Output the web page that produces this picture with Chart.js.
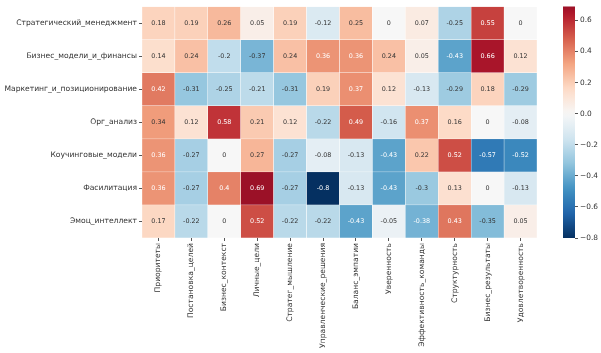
<!DOCTYPE html>
<html>
<head>
<meta charset="utf-8">
<script src="https://cdn.jsdelivr.net/npm/chart.js@4/dist/chart.umd.min.js"></script>
<style>
html,body{margin:0;padding:0;background:#fff;}
#wrap{position:relative;width:601px;height:353px;overflow:hidden;}
#main{position:absolute;left:0;top:0;}
#cbar{position:absolute;left:555px;top:0;}
</style>
</head>
<body>
<div id="wrap">
<canvas id="main" width="601" height="353"></canvas>
<canvas id="cbar" width="46" height="353"></canvas>
</div>
<script>
const rowLabels = ["Стратегический_менеджмент","Бизнес_модели_и_финансы","Маркетинг_и_позиционирование","Орг_анализ","Коучинговые_модели","Фасилитация","Эмоц_интеллект"];
const colLabels = ["Приоритеты","Постановка_целей","Бизнес_контекст","Личные_цели","Стратег_мышление","Управленческие_решения","Баланс_эмпатии","Уверенность","Эффективность_команды","Структурность","Бизнес_результаты","Удовлетворенность"];
const rowStrateg = [0.18, 0.19, 0.26, 0.05, 0.19, -0.12, 0.25, 0, 0.07, -0.25, 0.55, 0];
const rowBiz     = [0.14, 0.24, -0.2, -0.37, 0.24, 0.36, 0.36, 0.24, 0.05, -0.43, 0.66, 0.12];
const rowMarket  = [0.42, -0.31, -0.25, -0.21, -0.31, 0.19, 0.37, 0.12, -0.13, -0.29, 0.18, -0.29];
const rowOrg     = [0.34, 0.12, 0.58, 0.21, 0.12, -0.22, 0.49, -0.16, 0.37, 0.16, 0, -0.08];
const rowCoach   = [0.36, -0.27, 0, 0.27, -0.27, -0.08, -0.13, -0.43, 0.22, 0.52, -0.57, -0.52];
const rowFacil   = [0.36, -0.27, 0.4, 0.69, -0.27, -0.8, -0.13, -0.43, -0.3, 0.13, 0, -0.13];
const rowEmo     = [0.17, -0.22, 0, 0.52, -0.22, -0.22, -0.43, -0.05, -0.38, 0.43, -0.35, 0.05];
const matrix = [rowStrateg, rowBiz, rowMarket, rowOrg, rowCoach, rowFacil, rowEmo];
const vMin = -0.8, vMax = 0.69, vCenter = 0;
const cbarTicks = [-0.8, -0.6, -0.4, -0.2, 0.0, 0.2, 0.4, 0.6];

// RdBu_r colormap
const RDBU_R = [[5,48,97],[33,102,172],[67,147,195],[146,197,222],[209,229,240],[247,247,247],[253,219,199],[244,165,130],[214,96,77],[178,24,43],[103,0,31]];
function cmapRGB(t){
  t = Math.max(0, Math.min(1, t));
  const p = t*10, i = Math.min(9, Math.floor(p)), f = p - i;
  const a = RDBU_R[i], b = RDBU_R[i+1];
  return [0,1,2].map(k => a[k] + (b[k]-a[k])*f);
}
const vRange = Math.max(vMax - vCenter, vCenter - vMin);
function norm(v){ return (v - (vCenter - vRange)) / (2*vRange); }
function colorOf(v){ const c = cmapRGB(norm(v)); return `rgb(${c.map(Math.round).join(',')})`; }
function lum(v){
  const c = cmapRGB(norm(v)).map(x => { x/=255; return x <= 0.03928 ? x/12.92 : Math.pow((x+0.055)/1.055, 2.4); });
  return 0.2126*c[0] + 0.7152*c[1] + 0.0722*c[2];
}
const FONT = "'DejaVu Sans', sans-serif";
const TEXT = '#262626';

const annotPlugin = {
  id: 'annot',
  afterDatasetsDraw(chart){
    const ctx = chart.ctx;
    ctx.save();
    ctx.font = `6.4px ${FONT}`;
    ctx.textAlign = 'center';
    ctx.textBaseline = 'middle';
    chart.data.datasets.forEach((ds, r) => {
      const meta = chart.getDatasetMeta(r);
      meta.data.forEach((el, c) => {
        const v = matrix[r][c];
        ctx.fillStyle = lum(v) > 0.408 ? '#333333' : '#ffffff';
        ctx.fillText(String(v), el.x, (el.y + el.base)/2);
      });
    });
    ctx.restore();
  }
};

new Chart(document.getElementById('main'), {
  type: 'bar',
  data: {
    labels: colLabels,
    datasets: matrix.map((vals, r) => ({
      label: rowLabels[r],
      data: vals.map(() => [r, r+1]),
      backgroundColor: vals.map(colorOf),
      borderColor: '#ffffff',
      borderWidth: 0.5,
      borderSkipped: false,
      grouped: false,
      barPercentage: 1,
      categoryPercentage: 1
    }))
  },
  options: {
    responsive: false,
    animation: false,
    layout: { padding: { left: 0, top: 3, right: 64, bottom: 0 } },
    plugins: { legend: { display: false }, tooltip: { enabled: false } },
    scales: {
      x: {
        type: 'category',
        offset: true,
        grid: { display: true, drawOnChartArea: false, offset: false, tickLength: 3, color: '#555' },
        border: { display: false },
        ticks: { minRotation: 90, maxRotation: 90, autoSkip: false, padding: 2, color: '#333', font: { family: FONT, size: 7.6 } },
        afterFit(s){ s.height = 115; }
      },
      y: {
        type: 'linear',
        min: 0, max: matrix.length,
        reverse: true,
        afterBuildTicks(s){ s.ticks = rowLabels.map((_, i) => ({ value: i + 0.5 })); },
        grid: { display: true, drawOnChartArea: false, tickLength: 3, color: '#555' },
        border: { display: false },
        ticks: { autoSkip: false, padding: 2, color: '#333', font: { family: FONT, size: 7.6 },
          callback: (v) => rowLabels[Math.floor(v)] },
        afterFit(s){ s.width = 142; }
      }
    }
  },
  plugins: [annotPlugin]
});

// Colorbar
new Chart(document.getElementById('cbar'), {
  type: 'bar',
  data: {
    labels: [''],
    datasets: [{
      data: [[vMin, vMax]],
      borderWidth: 0,
      borderSkipped: false,
      barPercentage: 1,
      categoryPercentage: 1,
      backgroundColor(ctx){
        const ca = ctx.chart.chartArea;
        if (!ca) return '#ccc';
        const g = ctx.chart.ctx.createLinearGradient(0, ca.bottom, 0, ca.top);
        const n = 40;
        for (let i = 0; i <= n; i++){
          const v = vMin + (vMax - vMin)*i/n;
          g.addColorStop(i/n, colorOf(v));
        }
        return g;
      }
    }]
  },
  options: {
    responsive: false,
    animation: false,
    layout: { padding: { left: 8, top: 3, right: 0, bottom: 115 } },
    plugins: { legend: { display: false }, tooltip: { enabled: false } },
    scales: {
      x: { display: false, offset: true },
      y: {
        position: 'right',
        min: vMin, max: vMax,
        afterBuildTicks(s){ s.ticks = cbarTicks.map(v => ({ value: v })); },
        grid: { display: true, drawOnChartArea: false, tickLength: 3, color: '#555' },
        border: { display: false },
        ticks: { padding: 2, color: '#333', font: { family: FONT, size: 7.4 },
          callback: (v) => (v < 0 ? '\u2212' : '') + Math.abs(v).toFixed(1) },
        afterFit(s){ s.width = 26; }
      }
    }
  }
});
</script>
</body>
</html>
